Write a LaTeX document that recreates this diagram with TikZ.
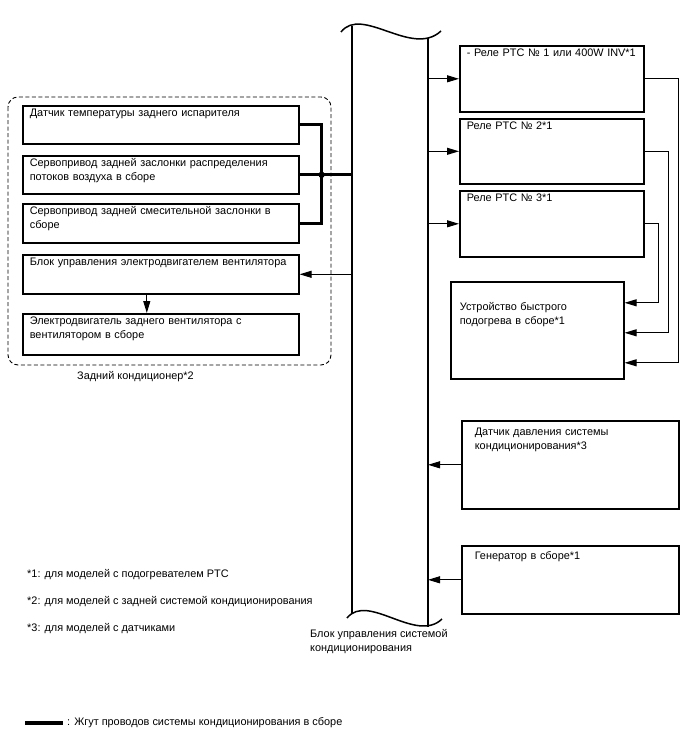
\documentclass[tikz,border=0pt]{standalone}
\usepackage{fontspec}
\setmainfont{Liberation Sans}
\usepackage{tikz}
\usetikzlibrary{arrows.meta,calc}

\begin{document}
\begin{tikzpicture}[x=1pt,y=-1pt,
    unit/.style={draw,line width=1.6pt,anchor=north west,align=left,
                 inner xsep=7pt,inner ysep=3pt,text height=8pt,
                 font=\fontsize{10.9}{14}\selectfont},
    wire/.style={line width=1pt,-{Triangle[length=12pt,width=7pt]}},
    harness/.style={line width=3pt},
    bus/.style={line width=1.5pt},
    group/.style={dash pattern=on 4pt off 2.5pt,line width=0.9pt,rounded corners=10pt},
    note/.style={anchor=west,inner sep=0pt,font=\fontsize{10.9}{14}\selectfont}]
    \useasboundingbox (0,0) rectangle (688,755);
    % control unit bus
    \draw[bus] (341,32) .. controls (362,5) and (412,58) .. (441,31);
    \draw[bus] (347,618) .. controls (368,592) and (416,644) .. (442,619);
    \draw[bus] (352,26) -- (352,614);
    \draw[bus] (428,38) -- (428,627);
    \coordinate (eculeft) at (352,0);
    \coordinate (ecuright) at (428,0);
    \node[anchor=north west,align=left,inner sep=0pt,font=\fontsize{10.9}{14}\selectfont] (ecu) at (310,629)
        {Блок управления системой\\кондиционирования};
    % rear air conditioner
    \draw[group] (8,97) rectangle (331,365);
    \node[note] (reartitle) at (77,377) {Задний кондиционер*2};
    \node[unit,text width=262pt,text depth=24pt] (evap) at (22,105) {Датчик температуры заднего испарителя};
    \node[unit,text width=262pt,text depth=24pt] (airflow) at (22,155) {Сервопривод задней заслонки распределения\\потоков воздуха в сборе};
    \node[unit,text width=262pt,text depth=25pt] (mixdoor) at (22,203) {Сервопривод задней смесительной заслонки в\\сборе};
    \node[unit,text width=262pt,text depth=25pt] (blower) at (22,254) {Блок управления электродвигателем вентилятора};
    \node[unit,text width=262pt,text depth=27pt] (fanmotor) at (22,313) {Электродвигатель заднего вентилятора с\\вентилятором в сборе};
    \coordinate (hub) at ($(airflow.east)+(22,0)$);
    \draw[harness] (evap.east) -| (hub) |- (mixdoor.east);
    \draw[harness] (airflow.east) -- (airflow.east -| eculeft);
    \fill (hub) circle (3.2pt);
    \draw[wire] (blower.east -| eculeft) -- (blower.east);
    \draw[wire] ([xshift=-14pt]blower.south) -- ([xshift=-14pt]fanmotor.north);
    % PTC heater side
    \node[unit,text width=170pt,text depth=52pt] (relayone) at (459,45) {- Реле PTC № 1 или 400W INV*1};
    \node[unit,text width=170pt,text depth=51pt] (relaytwo) at (459,118) {Реле PTC № 2*1};
    \node[unit,text width=170pt,text depth=52pt] (relaythree) at (459,190) {Реле PTC № 3*1};
    \node[unit,inner xsep=9pt,text width=155pt,text height=26pt,text depth=65pt] (heater) at (450,281)
        {Устройство быстрого\\подогрева в сборе*1};
    \draw[wire] (relayone.west -| ecuright) -- (relayone.west);
    \draw[wire] (relaytwo.west -| ecuright) -- (relaytwo.west);
    \draw[wire] (relaythree.west -| ecuright) -- (relaythree.west);
    \draw[wire] (relaythree.east) -- ++(14,0) |- ([yshift=27.5pt]heater.east);
    \draw[wire] (relaytwo.east) -- ++(24,0) |- ([yshift=-2.5pt]heater.east);
    \draw[wire] (relayone.east) -- ++(34,0) |- ([yshift=-32.5pt]heater.east);
    % inputs
    \node[unit,inner xsep=13pt,text width=191pt,text height=12pt,text depth=70pt] (pressure) at (461,420)
        {Датчик давления системы\\кондиционирования*3};
    \node[unit,inner xsep=13pt,text width=191pt,text height=11pt,text depth=51pt] (generator) at (461,545)
        {Генератор в сборе*1};
    \draw[wire] (pressure.west) -- (pressure.west -| ecuright);
    \draw[wire] (generator.west) -- (generator.west -| ecuright);
    % notes and legend
    \node[note] (noteone) at (27,575) {*1: для моделей с подогревателем PTC};
    \node[note] (notetwo) at (27,602) {*2: для моделей с задней системой кондиционирования};
    \node[note] (notethree) at (27,629) {*3: для моделей с датчиками};
    \coordinate (keystart) at (25,723);
    \node[note] (keytext) at (67,723) {: Жгут проводов системы кондиционирования в сборе};
    \draw[harness,line width=3.5pt] (keystart) -- ([xshift=-4pt]keytext.west);
  \end{tikzpicture}
\end{document}
